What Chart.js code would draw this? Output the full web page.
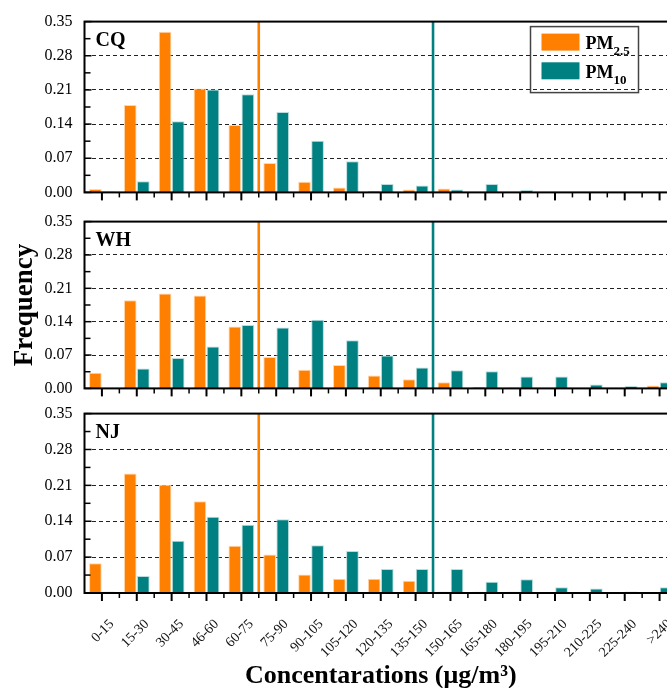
<!DOCTYPE html>
<html>
<head>
<meta charset="utf-8">
<script src="https://cdn.jsdelivr.net/npm/chart.js@4.4.1/dist/chart.umd.min.js"></script>
<style>
  html, body { margin: 0; padding: 0; background: #fff; overflow: hidden; width: 667px; height: 688px; }
  canvas { position: absolute; left: 0; }
  #c1 { top: 0; }
  #c2 { top: 200px; }
  #c3 { top: 392px; }
</style>
</head>
<body>
<canvas id="c1" width="680" height="214"></canvas>
<canvas id="c2" width="680" height="210"></canvas>
<canvas id="c3" width="680" height="296"></canvas>
<script>
// Concentration bins (ug/m3), as printed on the original figure
var bins = ['0-15', '15-30', '30-45', '46-60', '60-75', '75-90', '90-105', '105-120', '120-135',
  '135-150', '150-165', '165-180', '180-195', '195-210', '210-225', '225-240', '>240'];

// Frequency per bin
var cqPM25 = [0.007, 0.179, 0.329, 0.213, 0.138, 0.060, 0.022, 0.010, 0.003, 0.006, 0.008, 0, 0, 0, 0, 0, 0];
var cqPM10 = [0.002, 0.023, 0.146, 0.211, 0.201, 0.165, 0.106, 0.064, 0.017, 0.014, 0.006, 0.017, 0.005, 0, 0, 0, 0];
var whPM25 = [0.033, 0.185, 0.199, 0.195, 0.130, 0.066, 0.039, 0.049, 0.027, 0.019, 0.013, 0.003, 0.002, 0, 0, 0, 0.006];
var whPM10 = [0, 0.042, 0.064, 0.088, 0.133, 0.128, 0.144, 0.101, 0.069, 0.044, 0.038, 0.036, 0.025, 0.025, 0.008, 0.005, 0.013];
var njPM25 = [0.058, 0.233, 0.211, 0.179, 0.092, 0.075, 0.036, 0.028, 0.028, 0.024, 0.003, 0.003, 0.003, 0, 0, 0, 0];
var njPM10 = [0.003, 0.033, 0.102, 0.149, 0.133, 0.144, 0.093, 0.082, 0.047, 0.047, 0.047, 0.022, 0.027, 0.011, 0.009, 0.003, 0.011];

// Y axis ticks
var yTicks = [0, 0.07, 0.14, 0.21, 0.28, 0.35];

// Limit values (ug/m3) drawn as vertical lines, bin width 15
var binWidth = 15;
var pm25Limit = 75;
var pm10Limit = 150;

var ORANGE = '#FF8000';
var TEAL = '#008080';
var SERIF = "'Liberation Serif', 'Times New Roman', serif";

// draws frame, tick marks, limit lines, city name and (optionally) legend
var panelDecor = {
  id: 'panelDecor',
  afterDatasetsDraw: function (chart, args, opts) {
    var ctx = chart.ctx;
    var a = chart.chartArea;
    var x = chart.scales.x;
    var y = chart.scales.y;
    var half = (x.getPixelForValue(1) - x.getPixelForValue(0)) / 2;
    ctx.save();

    // limit lines at the bin boundaries
    [[pm25Limit, ORANGE], [pm10Limit, TEAL]].forEach(function (l) {
      var px = x.getPixelForValue(l[0] / binWidth) - half;
      ctx.strokeStyle = l[1];
      ctx.lineWidth = 2.6;
      ctx.beginPath();
      ctx.moveTo(px, a.top);
      ctx.lineTo(px, a.bottom);
      ctx.stroke();
    });

    // frame
    ctx.strokeStyle = '#000';
    ctx.lineWidth = 2;
    ctx.strokeRect(a.left, a.top, a.width, a.height);

    // y tick marks, inward
    ctx.lineWidth = 1.5;
    for (var i = 0; i < yTicks.length; i++) {
      var py = y.getPixelForValue(yTicks[i]);
      ctx.beginPath(); ctx.moveTo(a.left, py); ctx.lineTo(a.left + 7, py); ctx.stroke();
      if (i < yTicks.length - 1) {
        var pm = y.getPixelForValue((yTicks[i] + yTicks[i + 1]) / 2);
        ctx.beginPath(); ctx.moveTo(a.left, pm); ctx.lineTo(a.left + 6, pm); ctx.stroke();
      }
    }
    // x tick marks, outward
    for (var j = 0; j < bins.length; j++) {
      var pc = x.getPixelForValue(j);
      ctx.lineWidth = 2;
      ctx.beginPath(); ctx.moveTo(pc, a.bottom); ctx.lineTo(pc, a.bottom + 8); ctx.stroke();
      ctx.lineWidth = 1.5;
      ctx.beginPath(); ctx.moveTo(pc + half, a.bottom); ctx.lineTo(pc + half, a.bottom + 5); ctx.stroke();
    }

    // city name
    ctx.fillStyle = '#000';
    ctx.font = 'bold 20px ' + SERIF;
    ctx.textAlign = 'left';
    ctx.textBaseline = 'alphabetic';
    ctx.fillText(opts.name, a.left + 11, a.top + 24);

    // legend
    if (opts.legend) {
      var lx = a.left + 446, ly = a.top + 5;
      ctx.strokeStyle = '#444';
      ctx.lineWidth = 1.5;
      ctx.strokeRect(lx, ly, 108, 66);
      chart.data.datasets.forEach(function (ds, k) {
        var sy = ly + 7 + k * 28.7;
        ctx.fillStyle = ds.backgroundColor;
        ctx.fillRect(lx + 11, sy, 38, 17);
        ctx.fillStyle = '#000';
        ctx.font = 'bold 18px ' + SERIF;
        ctx.fillText(ds.label, lx + 55, sy + 15.5);
        var w = ctx.measureText(ds.label).width;
        ctx.font = 'bold 13px ' + SERIF;
        ctx.fillText(ds.sub, lx + 55 + w, sy + 21.5);
      });
    }
    ctx.restore();
  }
};

function makePanel(id, name, pm25, pm10, cfg) {
  var xAxis = {
    offset: true,
    display: !!cfg.xLabels,
    grid: { display: false, drawTicks: false },
    border: { display: false },
    ticks: {
      autoSkip: false,
      minRotation: 45,
      maxRotation: 45,
      padding: 23,
      labelOffset: 10,
      color: '#111',
      font: { family: SERIF, size: 14 }
    },
    title: {
      display: !!cfg.xLabels,
      text: 'Concentarations (\u03bcg/m\u00b3)',
      color: '#000',
      font: { family: SERIF, size: 26, weight: 'bold', lineHeight: 0.92 },
      padding: { top: 0, bottom: 0 }
    },
    afterFit: function (s) {
      s.height = cfg.xHeight || 0;
      s.paddingLeft = 0;
      s.paddingRight = 0;
    }
  };

  return new Chart(document.getElementById(id), {
    type: 'bar',
    data: {
      labels: bins,
      datasets: [
        { label: 'PM', sub: '2.5', data: pm25, backgroundColor: ORANGE, borderColor: '#FFD6AD', borderWidth: 1 },
        { label: 'PM', sub: '10', data: pm10, backgroundColor: TEAL, borderColor: '#B9DCDC', borderWidth: 1 }
      ]
    },
    options: {
      responsive: false,
      animation: false,
      categoryPercentage: 0.75,
      barPercentage: 0.97,
      layout: { padding: { top: cfg.top, bottom: cfg.bottom, left: 0, right: 3 } },
      plugins: {
        legend: { display: false },
        tooltip: { enabled: false },
        panelDecor: { name: name, legend: !!cfg.legend }
      },
      scales: {
        x: xAxis,
        y: {
          min: 0,
          max: 0.35,
          afterBuildTicks: function (s) { s.ticks = yTicks.map(function (v) { return { value: v }; }); },
          ticks: {
            padding: 12,
            color: '#000',
            font: { family: SERIF, size: 16 },
            callback: function (v) { return v.toFixed(2); }
          },
          grid: {
            drawTicks: false,
            lineWidth: 1,
            color: function (c) {
              var v = c.tick ? c.tick.value : 0;
              return (v > 0.001 && v < 0.349) ? '#222' : 'rgba(0,0,0,0)';
            }
          },
          border: { display: false, dash: [4, 3] },
          title: {
            display: !!cfg.yTitle,
            text: 'Frequency',
            color: '#000',
            font: { family: SERIF, size: 27, weight: 'bold', lineHeight: 1 },
            padding: { top: 12, bottom: 0 }
          },
          afterFit: function (s) { s.width = 84.5; }
        }
      }
    },
    plugins: [panelDecor]
  });
}

makePanel('c1', 'CQ', cqPM25, cqPM10, { top: 21, bottom: 13, legend: true });
makePanel('c2', 'WH', whPM25, whPM10, { top: 18, bottom: 13, yTitle: true });
makePanel('c3', 'NJ', njPM25, njPM10, { top: 21.3, bottom: 0, xLabels: true, xHeight: 95 });
</script>
</body>
</html>
